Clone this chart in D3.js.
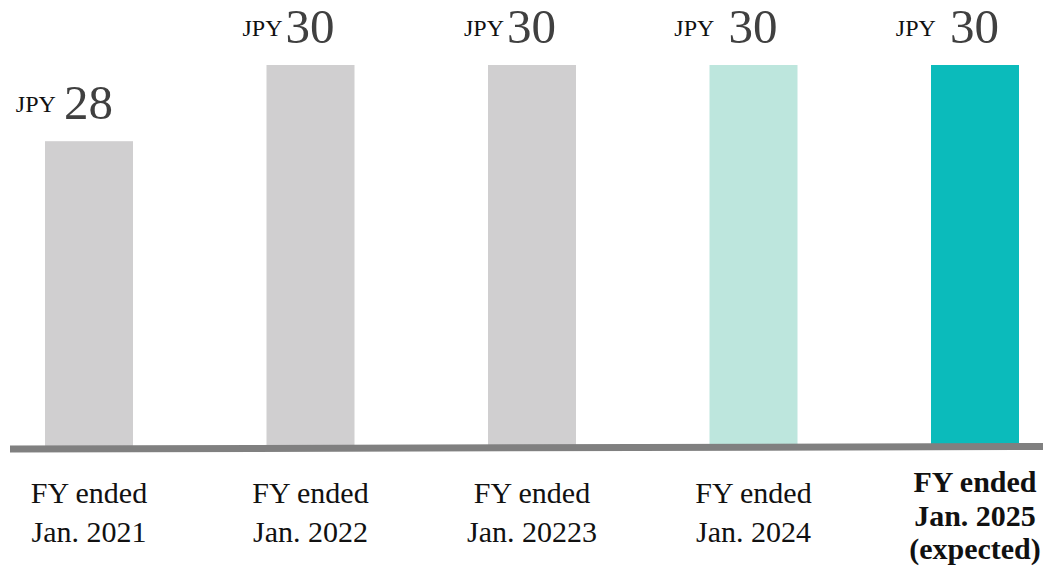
<!DOCTYPE html>
<html>
<head>
<meta charset="utf-8">
<script src="https://cdn.jsdelivr.net/npm/d3@7"></script>
<style>
    body { margin: 0; background: #fff; }
    svg { display: block; }
    text { white-space: pre; }
</style>
</head>
<body>
<svg id="chart" width="1043" height="578" font-family="'Times New Roman', 'Liberation Serif', Tinos, Times, serif"></svg>
<script>
// dividend per share, FY ended Jan.
var categories = ['2021', '2022', '20223', '2024', '2025'];
var values = [28, 30, 30, 30, 30];
var prefixes = ['JPY ', 'JPY', 'JPY', 'JPY  ', 'JPY  '];
var tickLabels = [
    ['FY ended', 'Jan. 2021'],
    ['FY ended', 'Jan. 2022'],
    ['FY ended', 'Jan. 20223'],
    ['FY ended', 'Jan. 2024'],
    ['FY ended', 'Jan. 2025', '(expected)']
];
var barColors = ['#d0cfd0', '#d0cfd0', '#d0cfd0', '#bde6dd', '#0bbbbb'];

var svg = d3.select('#chart');

var x = d3.scaleBand()
    .domain(categories)
    .range([45, 1019])
    .paddingInner(0.6027)
    .paddingOuter(0);

var y = d3.scaleLinear()
    .domain([20, 30])
    .range([446, 65]);

var data = categories.map(function(c, i)
{
    return {
        cat: c,
        value: values[i],
        prefix: prefixes[i],
        lines: tickLabels[i],
        color: barColors[i],
        bold: i === categories.length - 1
    };
});

// bars
svg.selectAll('.bar').data(data).enter()
    .append('rect')
    .classed('bar', true)
    .attr('x', function(d) { return x(d.cat); })
    .attr('y', function(d) { return y(d.value); })
    .attr('width', x.bandwidth())
    .attr('height', function(d) { return y(20) - y(d.value); })
    .attr('fill', function(d) { return d.color; });

// baseline (slightly tilted in the original)
svg.append('line')
    .attr('x1', 10)
    .attr('y1', y(20) + 3)
    .attr('x2', 1043)
    .attr('y2', y(20) + 0.5)
    .attr('stroke', '#808080')
    .attr('stroke-width', 7);

// value labels
var valueLabels = svg.selectAll('.value-label').data(data).enter()
    .append('text')
    .classed('value-label', true)
    .attr('text-anchor', 'end')
    .attr('x', function(d) { return x(d.cat) + x.bandwidth() / 2 + 24; })
    .attr('y', function(d) { return y(d.value) - 22; });

valueLabels.append('tspan')
    .attr('font-size', '24px')
    .attr('fill', '#111')
    .attr('dy', -7)
    .text(function(d) { return d.prefix; });

valueLabels.append('tspan')
    .attr('font-size', '49px')
    .attr('fill', '#404040')
    .attr('dx', 3)
    .attr('dy', 7)
    .text(function(d) { return d.value; });

// category labels
svg.selectAll('.cat-label').data(data).enter()
    .append('text')
    .classed('cat-label', true)
    .attr('text-anchor', 'middle')
    .attr('font-size', '30px')
    .attr('font-weight', function(d) { return d.bold ? 'bold' : 'normal'; })
    .attr('fill', '#111')
    .each(function(d)
    {
        var el = d3.select(this);
        var cx = x(d.cat) + x.bandwidth() / 2;
        var top = d.bold ? 492 : 503;
        var step = d.bold ? 33.5 : 39;
        d.lines.forEach(function(line, i)
        {
            el.append('tspan')
                .attr('x', cx)
                .attr('y', top + i * step)
                .text(line);
        });
    });
</script>
</body>
</html>
